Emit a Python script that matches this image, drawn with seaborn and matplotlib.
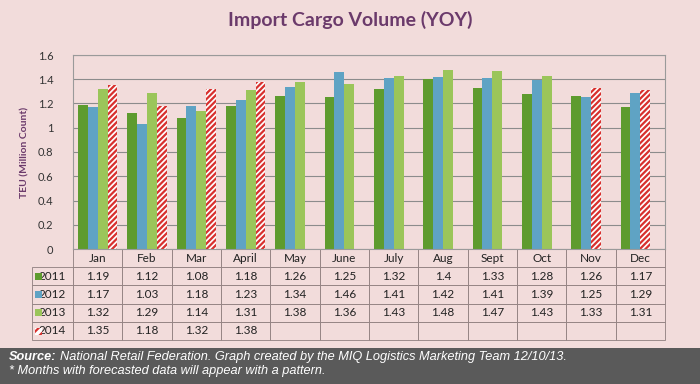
import matplotlib.pyplot as plt
import matplotlib.patches as mpatches
import numpy as np
import pandas as pd
import seaborn as sns

months = ['Jan', 'Feb', 'Mar', 'April', 'May', 'June', 'July', 'Aug',
          'Sept', 'Oct', 'Nov', 'Dec']
years = ['2011', '2012', '2013', '2014']
v2011 = [1.19, 1.12, 1.08, 1.18, 1.26, 1.25, 1.32, 1.4, 1.33, 1.28, 1.26, 1.17]
v2012 = [1.17, 1.03, 1.18, 1.23, 1.34, 1.46, 1.41, 1.42, 1.41, 1.39, 1.25, 1.29]
v2013 = [1.32, 1.29, 1.14, 1.31, 1.38, 1.36, 1.43, 1.48, 1.47, 1.43, 1.33, 1.31]
v2014 = [1.35, 1.18, 1.32, 1.38, None, None, None, None, None, None, None, None]
# forecast cells (drawn with a pattern)
forecast = [('2014', m) for m in ['Jan', 'Feb', 'Mar', 'April']] + \
           [('2013', 'Nov'), ('2013', 'Dec')]

colors = ['#5E9B2E', '#5FA3C4', '#9BC55A', '#FFFFFF']
bg = '#F2DCDB'
purple = '#6B3A6B'

rows = []
for yr, vals in zip(years, [v2011, v2012, v2013, v2014]):
    for m, v in zip(months, vals):
        rows.append({'Month': m, 'Year': yr, 'TEU': np.nan if v is None else v})
df = pd.DataFrame(rows)

sns.set_style('white')
plt.rcParams['font.family'] = ['Lato', 'DejaVu Sans']
plt.rcParams['hatch.linewidth'] = 1.6

fig = plt.figure(figsize=(7, 3.84), dpi=100)
fig.patch.set_facecolor(bg)
ax = fig.add_axes([73 / 700, 1 - 249 / 384, 592 / 700, 194 / 384])
ax.set_facecolor(bg)

sns.barplot(data=df, x='Month', y='TEU', hue='Year', order=months,
            hue_order=years, palette=colors, width=0.8, ax=ax,
            legend=False, saturation=1, edgecolor='none')

for yi, yr in enumerate(years):
    for mi, m in enumerate(months):
        if (yr, m) in forecast:
            bar = ax.containers[yi][mi]
            bar.set_facecolor('white')
            bar.set_hatch('//////')
            bar.set_edgecolor('#D8302E')
            bar.set_linewidth(0)

ax.set_ylim(0, 1.6)
ax.set_xlim(-0.5, len(months) - 0.5)
ax.set_yticks(np.arange(0, 1.61, 0.2))
ax.set_yticklabels(['%g' % t for t in np.arange(0, 1.61, 0.2).round(1)],
                   fontsize=8, color='#333333')
ax.yaxis.grid(True, color='#8C8C8C', linewidth=0.8)
ax.set_axisbelow(True)
ax.tick_params(axis='y', length=0, pad=14)
ax.set_xticks([])
ax.set_xlabel('')
ax.set_ylabel('TEU (Million Count)', fontsize=7.5, color=purple,
              fontweight='bold', labelpad=6)
for s in ['top', 'right', 'left', 'bottom']:
    ax.spines[s].set_color('#9A9A9A')
    ax.spines[s].set_linewidth(0.8)

# data table under the chart, first column holds the year labels
cell_text = []
for yr, vals in zip(years, [v2011, v2012, v2013, v2014]):
    cell_text.append([yr] + ['' if v is None else '%g' % v for v in vals])
col_w = [41 / 633] + [592 / 12 / 633] * 12
tbl = ax.table(cellText=cell_text, colLabels=[''] + months, colWidths=col_w,
               cellLoc='center', bbox=[-41 / 592, -91 / 194, 633 / 592, 91 / 194])
tbl.auto_set_font_size(False)
tbl.set_fontsize(8.5)
for (r, c), cell in tbl.get_celld().items():
    cell.set_facecolor(bg)
    cell.set_edgecolor('#8E7E7E')
    cell.set_linewidth(0.6)
    cell.get_text().set_color('#222222')
    if c == 0:
        cell._loc = 'right'
        cell.PAD = 0.05
        if r == 0:
            cell.visible_edges = ''

# legend keys inside the year cells
row_y = [276, 294, 312, 331]
for yi, yy in enumerate(row_y):
    x0 = (35 - 73) / 592
    y0 = (249 - yy - 3.5) / 194
    if yi < 3:
        p = mpatches.Rectangle((x0, y0), 7 / 592, 7 / 194, transform=ax.transAxes,
                               facecolor=colors[yi], edgecolor='none', clip_on=False)
    else:
        p = mpatches.Rectangle((x0, y0), 7 / 592, 7 / 194, transform=ax.transAxes,
                               facecolor='white', edgecolor='#D8302E', hatch='////',
                               linewidth=0, clip_on=False)
    ax.add_patch(p)

fig.text(0.5, 1 - 20 / 384, 'Import Cargo Volume (YOY)', ha='center', va='center',
         fontsize=14, color=purple, fontweight='bold')

# footer band
fig.patches.append(mpatches.Rectangle((0, 0), 1, 36 / 384, transform=fig.transFigure,
                                      facecolor='#5A5A5A', edgecolor='none', zorder=0))
fig.text(9 / 700, 1 - 357 / 384, 'Source:', ha='left', va='center', fontsize=9.2,
         color='white', fontweight='bold', style='italic', family='Liberation Sans')
fig.text(60 / 700, 1 - 357 / 384,
         'National Retail Federation. Graph created by the MIQ Logistics Marketing Team 12/10/13.',
         ha='left', va='center', fontsize=9.2, color='white', style='italic',
         family='Liberation Sans')
fig.text(9 / 700, 1 - 371 / 384,
         '* Months with forecasted data will appear with a pattern.',
         ha='left', va='center', fontsize=9.2, color='white', style='italic',
         family='Liberation Sans')

fig.savefig('out.png', dpi=100, facecolor=bg)
